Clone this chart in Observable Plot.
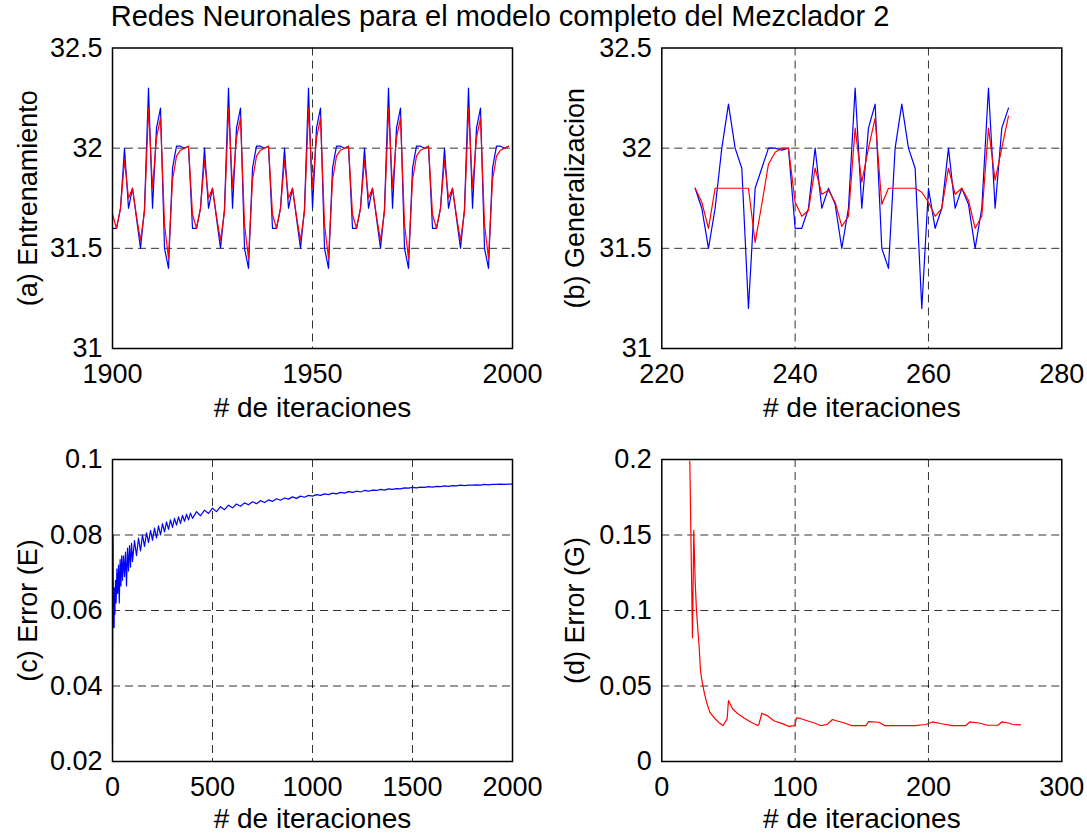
<!DOCTYPE html>
<html>
<head>
<meta charset="utf-8">
<script src="https://cdn.jsdelivr.net/npm/d3@7"></script>
<script src="https://cdn.jsdelivr.net/npm/@observablehq/plot@0.6"></script>
<style>
  html, body { margin: 0; padding: 0; background: #fff; }
  #fig { position: relative; width: 1087px; height: 834px; background: #fff; overflow: hidden; }
  #fig > svg { position: absolute; }
  #title { position: absolute; left: 0; width: 1000px; top: 0px; text-align: center; line-height: 32px;
           font-family: "Liberation Sans", Arial, sans-serif; font-size: 29px; color: #000; white-space: nowrap; }
</style>
</head>
<body>
<div id="fig">
  <div id="title">Redes Neuronales para el modelo completo del Mezclador 2</div>
</div>
<script>
// ---- (a) training set: target (blue) and network output (red), iterations 1900..1999
const startA = 1900;
const targetA = [
  31.6, 31.6, 31.7,
  32.0, 31.7, 31.8, 31.65, 31.5, 31.7, 32.3, 31.7, 32.1, 32.2, 31.5, 31.4, 31.9, 32.01, 32.01, 32.0, 32.01, 31.6, 31.6, 31.7,
  32.0, 31.7, 31.8, 31.65, 31.5, 31.7, 32.3, 31.7, 32.1, 32.2, 31.5, 31.4, 31.9, 32.01, 32.01, 32.0, 32.01, 31.6, 31.6, 31.7,
  32.0, 31.7, 31.8, 31.65, 31.5, 31.7, 32.3, 31.7, 32.1, 32.2, 31.5, 31.4, 31.9, 32.01, 32.01, 32.0, 32.01, 31.6, 31.6, 31.7,
  32.0, 31.7, 31.8, 31.65, 31.5, 31.7, 32.3, 31.7, 32.1, 32.2, 31.5, 31.4, 31.9, 32.01, 32.01, 32.0, 32.01, 31.6, 31.6, 31.7,
  32.0, 31.7, 31.8, 31.65, 31.5, 31.7, 32.3, 31.7, 32.1, 32.2, 31.5, 31.4, 31.9, 32.01, 32.01, 32.0, 32.01
];
const outputA = [
  31.67, 31.6, 31.7,
  31.94, 31.75, 31.8, 31.66, 31.54, 31.68, 32.2, 31.8, 32.05, 32.15, 31.62, 31.45, 31.84, 31.96, 31.99, 32.0, 32.01, 31.67, 31.6, 31.7,
  31.94, 31.75, 31.8, 31.66, 31.54, 31.68, 32.2, 31.8, 32.05, 32.15, 31.62, 31.45, 31.84, 31.96, 31.99, 32.0, 32.01, 31.67, 31.6, 31.7,
  31.94, 31.75, 31.8, 31.66, 31.54, 31.68, 32.2, 31.8, 32.05, 32.15, 31.62, 31.45, 31.84, 31.96, 31.99, 32.0, 32.01, 31.67, 31.6, 31.7,
  31.94, 31.75, 31.8, 31.66, 31.54, 31.68, 32.2, 31.8, 32.05, 32.15, 31.62, 31.45, 31.84, 31.96, 31.99, 32.0, 32.01, 31.67, 31.6, 31.7,
  31.94, 31.75, 31.8, 31.66, 31.54, 31.68, 32.2, 31.8, 32.05, 32.15, 31.62, 31.45, 31.84, 31.96, 31.99, 32.0, 32.01
];

// ---- (b) generalization set, iterations 225..272
const startB = 225;
const targetB = [
  31.8, 31.7, 31.5, 31.7, 32.0, 32.22, 32.0, 31.9, 31.2, 31.8,
  31.9, 32.0, 32.0, 31.99, 32.0, 31.6, 31.6, 31.7, 32.0, 31.7,
  31.8, 31.72, 31.5, 31.7, 32.3, 31.7, 32.1, 32.22, 31.5, 31.4,
  32.0, 32.22, 32.0, 31.9, 31.2, 31.8, 31.6, 31.7, 32.0, 31.7,
  31.8, 31.72, 31.5, 31.7, 32.3, 31.7, 32.1, 32.2
];
const outputB = [
  31.8, 31.73, 31.6, 31.8, 31.8, 31.8, 31.8, 31.8, 31.8, 31.53,
  31.72, 31.92, 31.98, 32.0, 32.0, 31.73, 31.66, 31.69, 31.9, 31.77,
  31.79, 31.73, 31.61, 31.66, 32.1, 31.83, 32.0, 32.15, 31.72, 31.8,
  31.8, 31.8, 31.8, 31.8, 31.78, 31.73, 31.66, 31.7, 31.9, 31.77,
  31.8, 31.74, 31.6, 31.66, 32.1, 31.84, 32.0, 32.16
];

// ---- (c) training error E per iteration
const errEIter = [
  0, 1, 2, 3, 4, 6, 8, 10, 12, 15, 18, 22, 26, 30, 34, 38, 42, 46, 50, 55,
  60, 65, 70, 75, 80, 85, 90, 95, 100, 110, 120, 130, 140, 150, 160, 170, 180, 190, 200, 210,
  220, 230, 240, 250, 260, 270, 280, 290, 300, 310, 320, 330, 340, 350, 360, 370, 380, 390, 400, 420,
  440, 460, 480, 500, 520, 540, 560, 580, 600, 620, 640, 660, 680, 700, 720, 740, 760, 780, 800, 820,
  840, 860, 880, 900, 920, 940, 960, 980, 1000, 1020, 1040, 1060, 1080, 1100, 1120, 1140, 1160, 1180, 1200, 1220,
  1240, 1260, 1280, 1300, 1320, 1340, 1360, 1380, 1400, 1420, 1440, 1460, 1480, 1500, 1520, 1540, 1560, 1580, 1600, 1620,
  1640, 1660, 1680, 1700, 1720, 1740, 1760, 1780, 1800, 1820, 1840, 1860, 1880, 1900, 1920, 1940, 1960, 1980, 2000
];
const errE = [
  0.0245, 0.0605, 0.0555, 0.0800, 0.0600, 0.0640, 0.0555, 0.0660, 0.0590, 0.0680, 0.0620, 0.0710, 0.0645, 0.0720, 0.0620, 0.0735, 0.0665, 0.0745, 0.0680, 0.0745,
  0.0690, 0.0755, 0.0665, 0.0765, 0.0705, 0.0772, 0.0715, 0.0778, 0.0730, 0.0785, 0.0745, 0.0792, 0.0758, 0.0800, 0.0770, 0.0806, 0.0780, 0.0812, 0.0786, 0.0818,
  0.0792, 0.0824, 0.0800, 0.0830, 0.0808, 0.0835, 0.0815, 0.0840, 0.0820, 0.0844, 0.0826, 0.0848, 0.0831, 0.0852, 0.0836, 0.0855, 0.0840, 0.0858, 0.0844, 0.0862,
  0.0851, 0.0866, 0.0857, 0.0871, 0.0862, 0.0875, 0.0867, 0.0879, 0.0872, 0.0882, 0.0876, 0.0885, 0.0880, 0.0888, 0.0883, 0.0891, 0.0886, 0.0893, 0.0889, 0.0896,
  0.0892, 0.0898, 0.0895, 0.0901, 0.0897, 0.0903, 0.0900, 0.0905, 0.0903, 0.0907, 0.0905, 0.0909, 0.0907, 0.0911, 0.0909, 0.0913, 0.0911, 0.0915, 0.0913, 0.0916,
  0.0914, 0.0918, 0.0916, 0.0919, 0.0918, 0.0921, 0.0919, 0.0922, 0.0921, 0.0923, 0.0922, 0.0925, 0.0924, 0.0926, 0.0925, 0.0927, 0.0926, 0.0928, 0.0927, 0.0929,
  0.0928, 0.0930, 0.0929, 0.0931, 0.0930, 0.0932, 0.0931, 0.0932, 0.0932, 0.0933, 0.0932, 0.0934, 0.0933, 0.0934, 0.0934, 0.0935, 0.0934, 0.0935, 0.0935
];

// ---- (d) generalization error G per iteration
const errGIter = [
  21, 23, 24, 25, 26, 28, 29, 30, 32, 34, 36, 39, 43, 46, 49, 50, 53, 57, 62, 67,
  72, 73, 75, 79, 84, 91, 95, 99, 100, 101, 104, 109, 115, 119, 124, 126, 128, 131, 137, 142,
  153, 155, 163, 167, 179, 190, 198, 203, 210, 218, 228, 231, 238, 244, 252, 255, 260, 263, 269
];
const errG = [
  0.199, 0.082, 0.153, 0.120, 0.100, 0.076, 0.0605, 0.054, 0.045, 0.038, 0.0327, 0.0293, 0.0256, 0.0238, 0.0282, 0.0404, 0.0349, 0.0316, 0.0287, 0.0260,
  0.0238, 0.0250, 0.0320, 0.0304, 0.0270, 0.0249, 0.0233, 0.0238, 0.0245, 0.0289, 0.0285, 0.0270, 0.0253, 0.0238, 0.0245, 0.0262, 0.0278, 0.0270, 0.0255, 0.0238,
  0.0238, 0.0264, 0.0260, 0.0238, 0.0238, 0.0238, 0.0245, 0.0262, 0.0250, 0.0238, 0.0238, 0.0262, 0.0255, 0.0240, 0.0240, 0.0262, 0.0255, 0.0245, 0.0242
];

// ---- axis ticks
const ticksAx = [1900, 1950, 2000], ticksAy = [31, 31.5, 32, 32.5];
const ticksBx = [220, 240, 260, 280], ticksBy = [31, 31.5, 32, 32.5];
const ticksCx = [0, 500, 1000, 1500, 2000], ticksCy = [0.02, 0.04, 0.06, 0.08, 0.1];
const ticksDx = [0, 100, 200, 300], ticksDy = [0, 0.05, 0.1, 0.15, 0.2];

const xLabel = "# de iteraciones";
const BLUE = "#0000ff", RED = "#ff0000";

const fmt = d => String(d);
const gridStyle = {stroke: "#000", strokeOpacity: 0.8, strokeWidth: 1, strokeDasharray: "8,5"};

function panel({left, top, ml, mr, mt, mb, xDomain, yDomain, xt, yt, yLabel, yLabelDx, xLabelDy, series}) {
  const W = 543, H = 417;
  const innerX = xt.filter(t => t > xDomain[0] && t < xDomain[1]);
  const innerY = yt.filter(t => t > yDomain[0] && t < yDomain[1]);
  const svg = Plot.plot({
    width: W, height: H,
    marginLeft: ml, marginRight: mr, marginTop: mt, marginBottom: mb,
    style: {fontFamily: "Liberation Sans, Arial, sans-serif", fontSize: "27px", background: "transparent", overflow: "visible", color: "#000"},
    x: {domain: xDomain, ticks: xt, tickFormat: fmt, tickSize: 0, tickPadding: 15, label: null},
    y: {domain: yDomain, ticks: yt, tickFormat: fmt, tickSize: 0, tickPadding: 10, label: null},
    marks: [
      Plot.ruleX(innerX, gridStyle),
      Plot.ruleY(innerY, gridStyle),
      ...series.map(s => Plot.line(s.data, {x: "x", y: "y", stroke: s.color, strokeWidth: 1.2})),
      Plot.frame({stroke: "#000", strokeWidth: 1.5}),
      Plot.text([yLabel], {frameAnchor: "left", text: d => d, rotate: -90, dx: yLabelDx,
        textAnchor: "middle", lineAnchor: "middle", fontSize: 27}),
      Plot.text([xLabel], {frameAnchor: "bottom", text: d => d, dy: xLabelDy,
        textAnchor: "middle", lineAnchor: "middle", fontSize: 28})
    ]
  });
  svg.style.left = left + "px";
  svg.style.top = top + "px";
  document.getElementById("fig").appendChild(svg);
}

const rowsA = (arr) => arr.map((y, i) => ({x: startA + i, y}));
const rowsB = (arr) => arr.map((y, i) => ({x: startB + i, y}));
const rowsXY = (xs, ys) => xs.map((x, i) => ({x, y: ys[i]}));

panel({left: 0, top: 0, ml: 112, mr: 31, mt: 47.5, mb: 69,
  xDomain: [1900, 2000], yDomain: [31, 32.5], xt: ticksAx, yt: ticksAy,
  yLabel: "(a) Entrenamiento", yLabelDx: -84, xLabelDy: 60,
  series: [{data: rowsA(targetA), color: BLUE}, {data: rowsA(outputA), color: RED}]});

panel({left: 543, top: 0, ml: 118.3, mr: 24.7, mt: 47.5, mb: 69,
  xDomain: [220, 280], yDomain: [31, 32.5], xt: ticksBx, yt: ticksBy,
  yLabel: "(b) Generalizacion", yLabelDx: -86, xLabelDy: 60,
  series: [{data: rowsB(targetB), color: BLUE}, {data: rowsB(outputB), color: RED}]});

panel({left: 0, top: 417, ml: 112, mr: 31, mt: 42, mb: 73,
  xDomain: [0, 2000], yDomain: [0.02, 0.1], xt: ticksCx, yt: ticksCy,
  yLabel: "(c) Error (E)", yLabelDx: -84, xLabelDy: 58,
  series: [{data: rowsXY(errEIter, errE), color: BLUE}]});

panel({left: 543, top: 417, ml: 118.3, mr: 24.7, mt: 42, mb: 73,
  xDomain: [0, 300], yDomain: [0, 0.2], xt: ticksDx, yt: ticksDy,
  yLabel: "(d) Error (G)", yLabelDx: -86, xLabelDy: 58,
  series: [{data: rowsXY(errGIter, errG), color: RED}]});
</script>
</body>
</html>
